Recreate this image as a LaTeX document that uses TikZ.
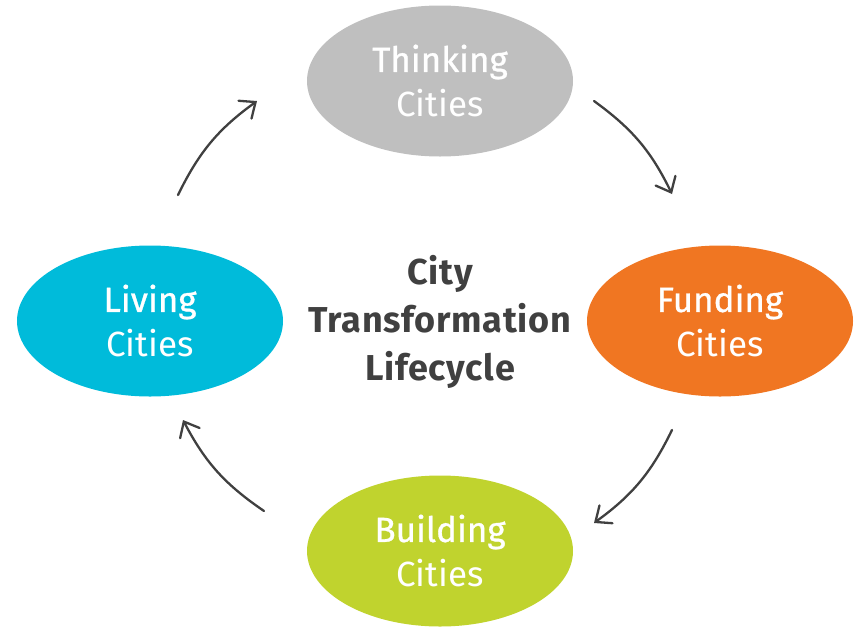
\documentclass[tikz,border=0pt]{standalone}
\usepackage{fontspec}
\setmainfont{Fira Sans}
\newfontfamily\headfont[FakeBold=0.8]{Fira Sans}
\usetikzlibrary{shapes.geometric,arrows.meta}
\definecolor{thinkgray}{HTML}{BFBFBF}
\definecolor{fundorange}{HTML}{F07622}
\definecolor{buildgreen}{HTML}{C0D32E}
\definecolor{livecyan}{HTML}{00BBDA}
\definecolor{darktext}{HTML}{404040}
\tikzset{
  cityoval/.style={ellipse, minimum width=266pt, minimum height=151pt, inner sep=0pt,
    text=white, align=center, font=\fontsize{35}{45}\selectfont},
  cyclearrow/.style={draw=darktext, line width=2.3pt, line cap=round,
    -{Straight Barb[length=13pt,width=22pt,line cap=round]}, bend left=14},
}
\begin{document}
\begin{tikzpicture}[x=1pt,y=-1pt]
\useasboundingbox (0,0) rectangle (859,627);
\node[cityoval, fill=thinkgray] (think) at (440,81) {{\headfont Thinking}\\Cities};
\node[cityoval, fill=fundorange] (fund) at (720,321) {{\headfont Funding}\\Cities};
\node[cityoval, fill=buildgreen] (build) at (440,551) {{\headfont Building}\\Cities};
\node[cityoval, fill=livecyan] (live) at (150,321) {{\headfont Living}\\Cities};
\node[text=darktext, align=center, font=\bfseries\fontsize{36}{48}\selectfont\addfontfeatures{LetterSpace=2}] (title) at (440,322) {City\\Transformation\\Lifecycle};
\coordinate (a1s) at (178,195);
\coordinate (a1e) at (257,101);
\coordinate (a2s) at (594,101);
\coordinate (a2e) at (672,194);
\coordinate (a3s) at (672,430);
\coordinate (a3e) at (594,523);
\coordinate (a4s) at (264,511);
\coordinate (a4e) at (183,420);
\draw[cyclearrow] (a1s) to (a1e);
\draw[cyclearrow] (a2s) to (a2e);
\draw[cyclearrow] (a3s) to (a3e);
\draw[cyclearrow] (a4s) to (a4e);
\end{tikzpicture}
\end{document}
